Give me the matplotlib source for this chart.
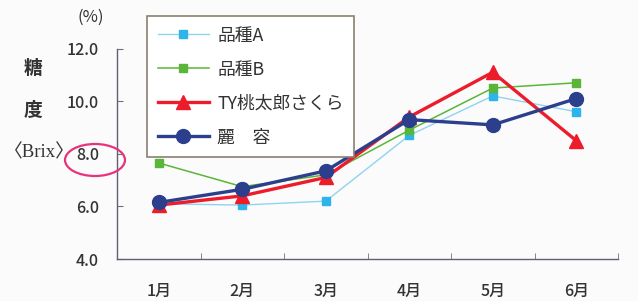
import matplotlib
matplotlib.use("Agg")
import matplotlib.pyplot as plt
from matplotlib.patches import Ellipse
from matplotlib.lines import Line2D

plt.rcParams['font.family'] = ['Noto Sans CJK JP', 'DejaVu Sans']

months = ['1月', '2月', '3月', '4月', '5月', '6月']
hinshu_a = [6.1, 6.05, 6.2, 8.7, 10.2, 9.6]
hinshu_b = [7.65, 6.75, 7.2, 8.9, 10.5, 10.7]
ty_momotaro = [6.05, 6.4, 7.1, 9.4, 11.1, 8.5]
reiyo = [6.15, 6.65, 7.35, 9.3, 9.1, 10.1]
series_labels = ['品種A', '品種B', 'TY桃太郎さくら', '麗　容']
y_ticks = [4.0, 6.0, 8.0, 10.0, 12.0]

W, H = 638, 301
fig = plt.figure(figsize=(W/100, H/100), dpi=100)
fig.patch.set_facecolor('#fbfbfb')
ax = fig.add_axes([117/W, 1-259/H, 501/W, (259-48.6)/H])
ax.set_facecolor('#fbfbfb')

x = list(range(len(months)))
c_a, c_b, c_r, c_n = '#2bb5ea', '#5ab638', '#ec1c2b', '#2b3f8c'
ax.plot(x, hinshu_a, color='#8fd3f0', lw=1.0, marker='s', ms=6, mfc=c_a, mec=c_a, zorder=2)
ax.plot(x, hinshu_b, color=c_b, lw=1.1, marker='s', ms=5.5, mfc=c_b, mec=c_b, zorder=3)
ax.plot(x, ty_momotaro, color=c_r, lw=2.4, marker='^', ms=10, mfc=c_r, mec=c_r, zorder=4)
ax.plot(x, reiyo, color=c_n, lw=2.4, marker='o', ms=10, mfc=c_n, mec=c_n, zorder=5)

ax.set_xlim(-0.5, 5.5)
ax.set_ylim(4.0, 12.0)
ax.set_yticks(y_ticks)
ax.set_yticklabels([f'{v:.1f}' for v in y_ticks])
ax.set_xticks(x)
ax.set_xticklabels(months)
ax.set_xticks([i + 0.5 for i in range(-1, 6)], minor=True)
ax.tick_params(axis='x', which='major', length=0, pad=17, labelsize=11.5, colors='#333333')
ax.tick_params(axis='x', which='minor', direction='in', length=4, color='#707080')
ax.tick_params(axis='y', direction='in', length=4, pad=13, labelsize=11.5, colors='#333333', color='#707080')
for lbl in ax.get_xticklabels() + ax.get_yticklabels():
    lbl.set_fontweight('medium')
for s in ['top', 'right']:
    ax.spines[s].set_visible(False)
for s in ['left', 'bottom']:
    ax.spines[s].set_color('#606075')
    ax.spines[s].set_linewidth(1.0)

handles = [
    Line2D([], [], color='#8fd3f0', lw=1.0, marker='s', ms=6, mfc=c_a, mec=c_a),
    Line2D([], [], color=c_b, lw=1.1, marker='s', ms=5.5, mfc=c_b, mec=c_b),
    Line2D([], [], color=c_r, lw=2.4, marker='^', ms=10, mfc=c_r, mec=c_r),
    Line2D([], [], color=c_n, lw=2.4, marker='o', ms=10, mfc=c_n, mec=c_n),
]
leg = fig.legend(handles, series_labels, loc='upper left', bbox_to_anchor=(147/W, 1-16/H),
                 bbox_transform=fig.transFigure, fancybox=False, framealpha=1,
                 edgecolor='#8a8070', fontsize=12.8, labelspacing=0.9, handlelength=2.9,
                 handletextpad=0.45, borderpad=0.6, borderaxespad=0)
leg.get_frame().set_linewidth(1.2)
for t in leg.get_texts():
    t.set_color('#333333')

fig.text(33/W, 1-68/H, '糖', ha='center', va='center', fontsize=13.5, fontweight='bold', color='#333333')
fig.text(33/W, 1-110/H, '度', ha='center', va='center', fontsize=13.5, fontweight='bold', color='#333333')
fig.text(39/W, 1-153/H, '〈Brix〉', ha='center', va='center', fontsize=13.5, color='#333333',
         family=['Liberation Serif', 'Noto Sans CJK JP'])
fig.text(91/W, 1-17/H, '(%)', ha='center', va='center', fontsize=12, color='#333333')

ell = Ellipse((95/W, 1-160/H), 60/W, 32/H, transform=fig.transFigure, fill=False,
              edgecolor='#e8337a', lw=1.6)
fig.patches.append(ell)

fig.savefig('out.png', dpi=100, facecolor=fig.get_facecolor())
